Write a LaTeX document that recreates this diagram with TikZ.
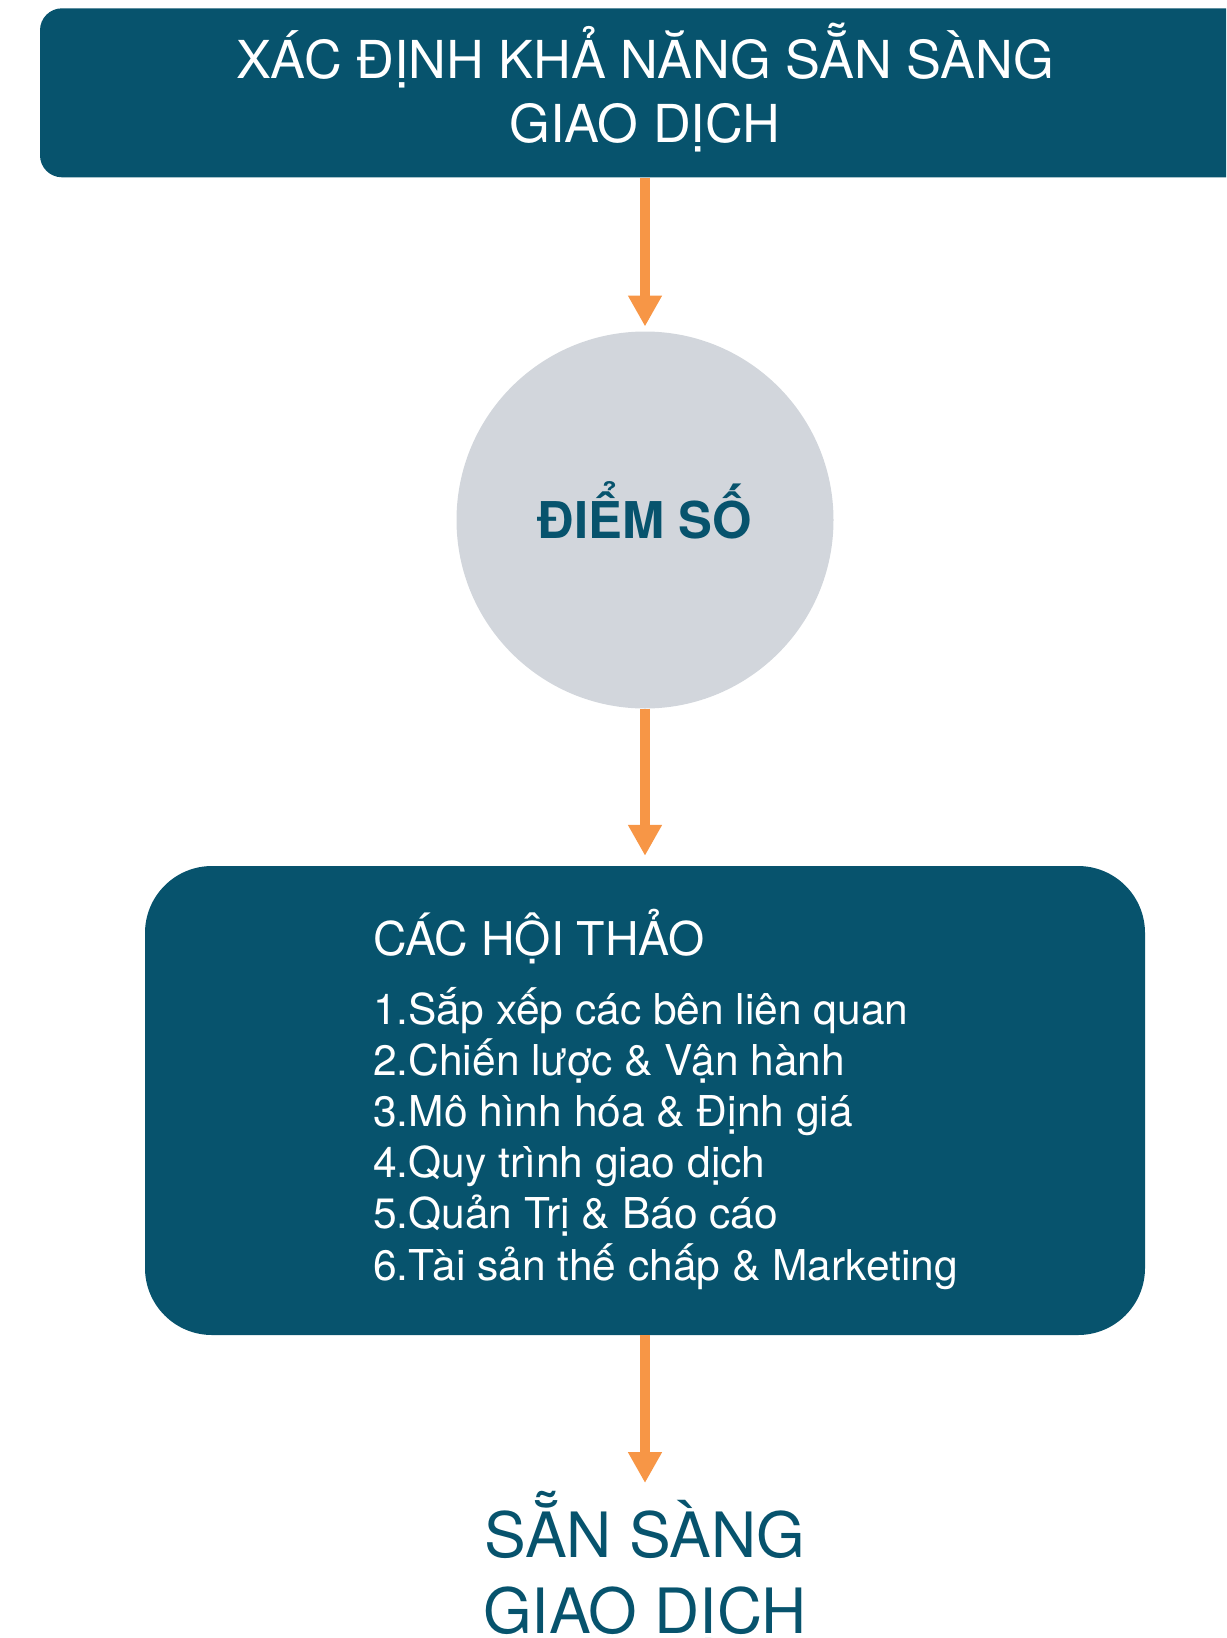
\documentclass[tikz,border=0pt]{standalone}
\usepackage{fontspec}
\setmainfont{TeX Gyre Heros}
\usetikzlibrary{arrows.meta,positioning}
\definecolor{deepteal}{HTML}{07536D}
\definecolor{flowor}{HTML}{F79646}
\definecolor{scoregray}{HTML}{D2D6DC}
\tikzset{
  banner/.style={rounded corners=22pt,fill=deepteal,minimum width=1210pt,minimum height=169pt,inner sep=0pt},
  panel/.style={rounded corners=67pt,fill=deepteal,minimum width=1000pt,minimum height=469pt,inner sep=0pt},
  score/.style={circle,fill=scoregray,minimum size=377pt,inner sep=0pt,text=deepteal,font=\fontsize{50.7}{60}\selectfont\bfseries,text height=36pt,text depth=0pt},
  wtitle/.style={text=white,inner sep=0pt,anchor=base,font=\fontsize{52.3}{62}\selectfont},
  whead/.style={text=white,inner sep=0pt,anchor=base west,font=\fontsize{46.5}{55}\selectfont},
  witem/.style={text=white,inner sep=0pt,anchor=base west,font=\fontsize{42.5}{50}\selectfont},
  ready/.style={text=deepteal,inner sep=0pt,anchor=base,font=\fontsize{62.5}{74}\selectfont},
  flow/.style={draw=flowor,line width=10pt,-{Triangle[width=32pt,length=31pt]}}
}
\begin{document}
\begin{tikzpicture}[x=1pt,y=-1pt]
\useasboundingbox (0,0) rectangle (1226,1638);
\clip (0,0) rectangle (1226,1638);
\node[banner](top)at(645,92.8){};
\node[wtitle](top1)at(645,78.3){XÁC ĐỊNH KHẢ NĂNG SẴN SÀNG};
\node[wtitle](top2)at(645,142.7){GIAO DỊCH};
\node[score](score)at(645,520){ĐIỂM SỐ};
\node[panel](ws)at(645,1100.5){};
\node[whead](wshead)at(373,955){CÁC HỘI THẢO};
\foreach \t[count=\i]in{Sắp xếp các bên liên quan,Chiến lược \& Vận hành,Mô hình hóa \& Định giá,Quy trình giao dịch,Quản Trị \& Báo cáo,Tài sản thế chấp \& Marketing}
  \node[witem](ws\i)at(373,{1024+(\i-1)*51.2}){\i.\t};
\node[ready](ready1)at(645,1557){SẴN SÀNG};
\node[ready](ready2)at(645,1633){GIAO DỊCH};
\coordinate(readytip)at(645,1483);
\draw[flow,shorten >=4.8pt](top.south)--(score.north);
\draw[flow,shorten >=10pt](score.south)--(ws.north);
\draw[flow](ws.south)--(readytip);
\end{tikzpicture}
\end{document}
